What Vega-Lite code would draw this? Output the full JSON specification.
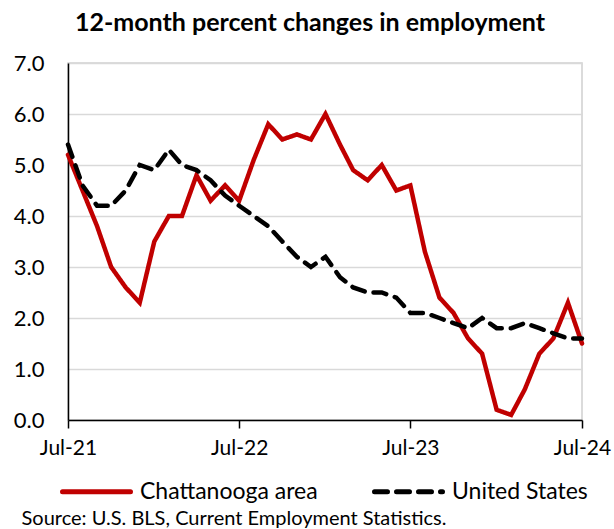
{
  "$schema": "https://vega.github.io/schema/vega-lite/v6.json",
  "width": 514,
  "height": 357,
  "autosize": {"type": "none"},
  "padding": {"left": 68, "top": 63, "right": 32, "bottom": 109},
  "background": "white",
  "title": {
    "text": "12-month percent changes in employment",
    "font": "Lato",
    "fontSize": 25,
    "fontWeight": "bold",
    "color": "#000000",
    "anchor": "middle",
    "frame": "group",
    "dx": -15,
    "offset": 16
  },
  "config": {
    "font": "Lato",
    "view": {"stroke": "#d0d0d0", "strokeWidth": 1.5}
  },
  "data": {
    "values": [
      {"date": "2021-07-01", "series": "Chattanooga area", "value": 5.2},
      {"date": "2021-08-01", "series": "Chattanooga area", "value": 4.5},
      {"date": "2021-09-01", "series": "Chattanooga area", "value": 3.8},
      {"date": "2021-10-01", "series": "Chattanooga area", "value": 3.0},
      {"date": "2021-11-01", "series": "Chattanooga area", "value": 2.6},
      {"date": "2021-12-01", "series": "Chattanooga area", "value": 2.3},
      {"date": "2022-01-01", "series": "Chattanooga area", "value": 3.5},
      {"date": "2022-02-01", "series": "Chattanooga area", "value": 4.0},
      {"date": "2022-03-01", "series": "Chattanooga area", "value": 4.0},
      {"date": "2022-04-01", "series": "Chattanooga area", "value": 4.8},
      {"date": "2022-05-01", "series": "Chattanooga area", "value": 4.3},
      {"date": "2022-06-01", "series": "Chattanooga area", "value": 4.6},
      {"date": "2022-07-01", "series": "Chattanooga area", "value": 4.3},
      {"date": "2022-08-01", "series": "Chattanooga area", "value": 5.1},
      {"date": "2022-09-01", "series": "Chattanooga area", "value": 5.8},
      {"date": "2022-10-01", "series": "Chattanooga area", "value": 5.5},
      {"date": "2022-11-01", "series": "Chattanooga area", "value": 5.6},
      {"date": "2022-12-01", "series": "Chattanooga area", "value": 5.5},
      {"date": "2023-01-01", "series": "Chattanooga area", "value": 6.0},
      {"date": "2023-02-01", "series": "Chattanooga area", "value": 5.4},
      {"date": "2023-03-01", "series": "Chattanooga area", "value": 4.9},
      {"date": "2023-04-01", "series": "Chattanooga area", "value": 4.7},
      {"date": "2023-05-01", "series": "Chattanooga area", "value": 5.0},
      {"date": "2023-06-01", "series": "Chattanooga area", "value": 4.5},
      {"date": "2023-07-01", "series": "Chattanooga area", "value": 4.6},
      {"date": "2023-08-01", "series": "Chattanooga area", "value": 3.3},
      {"date": "2023-09-01", "series": "Chattanooga area", "value": 2.4},
      {"date": "2023-10-01", "series": "Chattanooga area", "value": 2.1},
      {"date": "2023-11-01", "series": "Chattanooga area", "value": 1.6},
      {"date": "2023-12-01", "series": "Chattanooga area", "value": 1.3},
      {"date": "2024-01-01", "series": "Chattanooga area", "value": 0.2},
      {"date": "2024-02-01", "series": "Chattanooga area", "value": 0.1},
      {"date": "2024-03-01", "series": "Chattanooga area", "value": 0.6},
      {"date": "2024-04-01", "series": "Chattanooga area", "value": 1.3},
      {"date": "2024-05-01", "series": "Chattanooga area", "value": 1.6},
      {"date": "2024-06-01", "series": "Chattanooga area", "value": 2.3},
      {"date": "2024-07-01", "series": "Chattanooga area", "value": 1.5},
      {"date": "2021-07-01", "series": "United States", "value": 5.4},
      {"date": "2021-08-01", "series": "United States", "value": 4.6},
      {"date": "2021-09-01", "series": "United States", "value": 4.2},
      {"date": "2021-10-01", "series": "United States", "value": 4.2},
      {"date": "2021-11-01", "series": "United States", "value": 4.5},
      {"date": "2021-12-01", "series": "United States", "value": 5.0},
      {"date": "2022-01-01", "series": "United States", "value": 4.9},
      {"date": "2022-02-01", "series": "United States", "value": 5.3},
      {"date": "2022-03-01", "series": "United States", "value": 5.0},
      {"date": "2022-04-01", "series": "United States", "value": 4.9},
      {"date": "2022-05-01", "series": "United States", "value": 4.7},
      {"date": "2022-06-01", "series": "United States", "value": 4.4},
      {"date": "2022-07-01", "series": "United States", "value": 4.2},
      {"date": "2022-08-01", "series": "United States", "value": 4.0},
      {"date": "2022-09-01", "series": "United States", "value": 3.8},
      {"date": "2022-10-01", "series": "United States", "value": 3.5},
      {"date": "2022-11-01", "series": "United States", "value": 3.2},
      {"date": "2022-12-01", "series": "United States", "value": 3.0},
      {"date": "2023-01-01", "series": "United States", "value": 3.2},
      {"date": "2023-02-01", "series": "United States", "value": 2.8},
      {"date": "2023-03-01", "series": "United States", "value": 2.6},
      {"date": "2023-04-01", "series": "United States", "value": 2.5},
      {"date": "2023-05-01", "series": "United States", "value": 2.5},
      {"date": "2023-06-01", "series": "United States", "value": 2.4},
      {"date": "2023-07-01", "series": "United States", "value": 2.1},
      {"date": "2023-08-01", "series": "United States", "value": 2.1},
      {"date": "2023-09-01", "series": "United States", "value": 2.0},
      {"date": "2023-10-01", "series": "United States", "value": 1.9},
      {"date": "2023-11-01", "series": "United States", "value": 1.8},
      {"date": "2023-12-01", "series": "United States", "value": 2.0},
      {"date": "2024-01-01", "series": "United States", "value": 1.8},
      {"date": "2024-02-01", "series": "United States", "value": 1.8},
      {"date": "2024-03-01", "series": "United States", "value": 1.9},
      {"date": "2024-04-01", "series": "United States", "value": 1.8},
      {"date": "2024-05-01", "series": "United States", "value": 1.7},
      {"date": "2024-06-01", "series": "United States", "value": 1.6},
      {"date": "2024-07-01", "series": "United States", "value": 1.6}
    ]
  },
  "mark": {"type": "line", "strokeWidth": 4.5, "strokeCap": "round", "strokeJoin": "miter"},
  "encoding": {
    "x": {
      "field": "date",
      "type": "temporal",
      "scale": {"type": "utc", "domain": [{"year": 2021, "month": 7, "date": 1, "utc": true}, {"year": 2024, "month": 7, "date": 1, "utc": true}]},
      "axis": {
        "values": [
          {"year": 2021, "month": 7, "date": 1, "utc": true},
          {"year": 2022, "month": 7, "date": 1, "utc": true},
          {"year": 2023, "month": 7, "date": 1, "utc": true},
          {"year": 2024, "month": 7, "date": 1, "utc": true}
        ],
        "format": "%b-%y",
        "grid": false,
        "domainColor": "#000000",
        "domainWidth": 1.5,
        "tickColor": "#000000",
        "tickWidth": 1.5,
        "tickSize": 8,
        "labelFont": "Lato",
        "labelFontSize": 21,
        "labelColor": "#000000",
        "labelPadding": 9,
        "labelFlush": false,
        "labelOverlap": false,
        "labelBound": false,
        "title": "Source: U.S. BLS, Current Employment Statistics.",
        "titleFont": "Lato",
        "titleFontSize": 20,
        "titleFontWeight": "normal",
        "titleColor": "#000000",
        "titleAnchor": "start",
        "titleAlign": "left",
        "titleBaseline": "alphabetic",
        "titleX": -47,
        "titleY": 104,
        "titleLimit": 600
      }
    },
    "y": {
      "field": "value",
      "type": "quantitative",
      "scale": {"domain": [0, 7], "nice": false, "zero": true},
      "axis": {
        "values": [0, 1, 2, 3, 4, 5, 6, 7],
        "format": ".1f",
        "grid": true,
        "gridColor": "#d9d9d9",
        "gridWidth": 1.5,
        "ticks": false,
        "tickSize": 0,
        "domainColor": "#000000",
        "domainWidth": 1.5,
        "labelFont": "Lato",
        "labelFontSize": 22,
        "labelColor": "#000000",
        "labelPadding": 24,
        "title": null
      }
    },
    "color": {
      "field": "series",
      "type": "nominal",
      "scale": {"domain": ["Chattanooga area", "United States"], "range": ["#C00000", "#000000"]},
      "legend": {
        "title": null,
        "orient": "none",
        "direction": "horizontal",
        "legendX": -8,
        "legendY": 392,
        "padding": 0,
        "symbolType": "stroke",
        "symbolSize": 4624,
        "symbolStrokeWidth": 5,
        "labelFont": "Lato",
        "labelFontSize": 23,
        "labelColor": "#000000",
        "labelOffset": 7,
        "labelLimit": 400,
        "columnPadding": 46,
        "encode": {"symbols": {"update": {"strokeCap": {"value": "round"}}}}
      }
    },
    "strokeDash": {
      "field": "series",
      "type": "nominal",
      "scale": {"domain": ["Chattanooga area", "United States"], "range": [[1, 0], [13, 9]]},
      "legend": {
        "title": null,
        "orient": "none",
        "direction": "horizontal",
        "legendX": -8,
        "legendY": 392,
        "padding": 0,
        "symbolType": "stroke",
        "symbolSize": 4624,
        "symbolStrokeWidth": 5,
        "labelFont": "Lato",
        "labelFontSize": 23,
        "labelColor": "#000000",
        "labelOffset": 7,
        "labelLimit": 400,
        "columnPadding": 46,
        "encode": {"symbols": {"update": {"strokeCap": {"value": "round"}}}}
      }
    }
  }
}
